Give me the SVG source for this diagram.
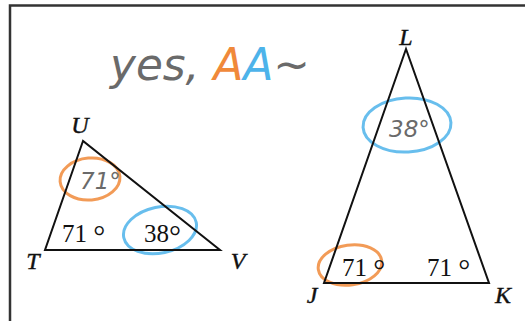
<svg xmlns="http://www.w3.org/2000/svg" width="525" height="321" viewBox="0 0 525 321">
<style>
.tri{fill:none;stroke:#111;stroke-width:2;stroke-linejoin:miter}
.vx{font-family:"Liberation Serif",serif;font-style:italic;font-size:24px;fill:#111;text-anchor:middle;stroke:#111;stroke-width:0.4}
.ang{font-family:"Liberation Serif",serif;font-size:25px;fill:#111}
.deg{font-size:30px}
.hand{font-family:"DejaVu Sans","Liberation Sans",sans-serif;font-style:italic;fill:#6a6a6a}
.or{fill:none;stroke:#f0893a;stroke-width:3;opacity:0.85}
.bl{fill:none;stroke:#4db3ea;stroke-width:3;opacity:0.85}
</style>
<rect width="525" height="321" fill="#fff"/>
<g id="frame">
<path d="M10 321 V5.5 H525" fill="none" stroke="#333" stroke-width="2.5"/>
</g>
<g id="note">
<text class="hand" x="110" y="80" font-size="44" font-weight="300" textLength="200" lengthAdjust="spacingAndGlyphs">yes, <tspan fill="#f0893a">A</tspan><tspan fill="#4db3ea">A</tspan>~</text>
</g>
<g id="triangle-TUV">
<ellipse class="or" cx="90" cy="179" rx="30" ry="21" transform="rotate(-5 90 179)"/>
<ellipse class="bl" cx="160" cy="230" rx="37" ry="23" transform="rotate(-12 160 230)"/>
<polygon class="tri" points="83,141 45,250 220,250"/>
<text class="vx" x="80" y="133">U</text>
<text class="vx" x="33" y="269">T</text>
<text class="vx" x="238" y="269">V</text>
<text class="ang" x="62" y="242">71 <tspan class="deg" dy="4">°</tspan></text>
<text class="ang" x="144" y="242">38<tspan class="deg" dy="4">°</tspan></text>
<text class="hand" x="80" y="189" font-size="23" font-weight="300">71°</text>
</g>
<g id="triangle-JKL">
<ellipse class="bl" cx="407" cy="125" rx="44" ry="27" transform="rotate(-3 407 125)"/>
<ellipse class="or" cx="350" cy="265" rx="32" ry="20" transform="rotate(-8 350 265)"/>
<polygon class="tri" points="406,49 324,283 489,283"/>
<text class="vx" x="406" y="45">L</text>
<text class="vx" x="312" y="303">J</text>
<text class="vx" x="503" y="303">K</text>
<text class="ang" x="342" y="276">71 <tspan class="deg" dy="4">°</tspan></text>
<text class="ang" x="427" y="276">71 <tspan class="deg" dy="4">°</tspan></text>
<text class="hand" x="389" y="137" font-size="23" font-weight="300">38°</text>
</g>
</svg>
